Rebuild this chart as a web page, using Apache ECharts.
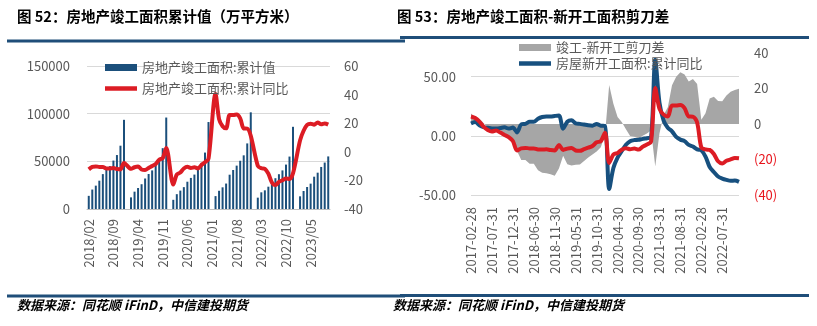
<!DOCTYPE html>
<html><head><meta charset="utf-8">
<script src="https://cdn.jsdelivr.net/npm/echarts@6/dist/echarts.min.js"></script>
<style>html,body{margin:0;padding:0;background:#fff;}#c{width:817px;height:326px;}</style>
</head><body><div id="c"></div>
<script>
// ---------- Left chart data ----------
const titleL = '图 52：房地产竣工面积累计值（万平方米）';
const titleR = '图 53：房地产竣工面积-新开工面积剪刀差';
const sourceText = '数据来源：同花顺 iFinD，中信建投期货';
const nameCum = '房地产竣工面积:累计值';
const nameCumYoy = '房地产竣工面积:累计同比';
const monthsL = [
 '2018/02','2018/03','2018/04','2018/05','2018/06','2018/07','2018/08','2018/09','2018/10','2018/11','2018/12',
 '2019/01','2019/02','2019/03','2019/04','2019/05','2019/06','2019/07','2019/08','2019/09','2019/10','2019/11','2019/12',
 '2020/01','2020/02','2020/03','2020/04','2020/05','2020/06','2020/07','2020/08','2020/09','2020/10','2020/11','2020/12',
 '2021/01','2021/02','2021/03','2021/04','2021/05','2021/06','2021/07','2021/08','2021/09','2021/10','2021/11','2021/12',
 '2022/01','2022/02','2022/03','2022/04','2022/05','2022/06','2022/07','2022/08','2022/09','2022/10','2022/11','2022/12',
 '2023/01','2023/02','2023/03','2023/04','2023/05','2023/06','2023/07','2023/08','2023/09','2023/10'
];
const completedCum = [
 13800,20400,24500,29700,36600,41800,45000,50800,56600,66400,93550,
 null,12200,18200,22000,26000,32000,36700,40500,46400,53300,63800,95942,
 null,9636,15557,19286,22936,28621,32600,36100,41000,48400,59200,91218,
 null,13530,19122,22736,26702,35979,40900,45500,50600,56300,68800,101412,
 null,11900,17500,19600,23400,28600,32300,36500,40500,46600,55000,86222,
 null,13300,18900,23100,26600,33900,38100,44100,48705,55151
];
const completedYoyL = [
 -12.3,-10.6,-10.2,-10.6,-10.6,-11.6,-11.6,-11.4,-12.0,-12.3,-7.8,
 null,-11.9,-10.8,-10.3,-12.4,-12.7,-11.3,-10.0,-8.6,-5.5,-4.5,2.6,
 null,-22.9,-15.8,-14.5,-11.7,-10.5,-11.3,-10.8,-11.6,-9.2,-7.3,-4.9,
 null,40.4,22.9,17.9,16.4,25.7,25.7,26.0,23.4,16.3,16.2,11.2,
 null,-9.8,-11.5,-11.9,-15.3,-21.5,-23.3,-21.1,-19.9,-18.7,-19.0,-15.0,
 null,8.0,14.7,18.8,19.6,19.0,20.5,19.2,19.8,19.0
];
const leftAxisL = {min:0, max:150000, interval:50000};
const rightAxisL = {min:-40, max:60, interval:20};

// ---------- Right chart data ----------
const nameGap = '竣工-新开工剪刀差';
const nameStartsYoy = '房屋新开工面积:累计同比';
const nameCompYoy = '房屋竣工面积:累计同比';
const monthsR = [
 '2017-02-28','2017-03-31','2017-04-30','2017-05-31','2017-06-30','2017-07-31','2017-08-31','2017-09-30','2017-10-31','2017-11-30','2017-12-31',
 '2018-02-28','2018-03-31','2018-04-30','2018-05-31','2018-06-30','2018-07-31','2018-08-31','2018-09-30','2018-10-31','2018-11-30','2018-12-31',
 '2019-02-28','2019-03-31','2019-04-30','2019-05-31','2019-06-30','2019-07-31','2019-08-31','2019-09-30','2019-10-31','2019-11-30','2019-12-31',
 '2020-02-29','2020-03-31','2020-04-30','2020-05-31','2020-06-30','2020-07-31','2020-08-31','2020-09-30','2020-10-31','2020-11-30','2020-12-31',
 '2021-02-28','2021-03-31','2021-04-30','2021-05-31','2021-06-30','2021-07-31','2021-08-31','2021-09-30','2021-10-31','2021-11-30','2021-12-31',
 '2022-02-28','2022-03-31','2022-04-30','2022-05-31','2022-06-30','2022-07-31','2022-08-31','2022-09-30','2022-10-31','2022-11-30'
];
const completedYoyR = [
 16.3,15.0,12.0,7.8,5.0,3.7,4.5,2.8,0.8,-1.1,-4.4,
 -12.3,-10.6,-10.2,-10.6,-10.6,-11.6,-11.6,-11.4,-12.0,-12.3,-7.8,
 -11.9,-10.8,-10.3,-12.4,-12.7,-11.3,-10.0,-8.6,-5.5,-4.5,2.6,
 -22.9,-15.8,-14.5,-11.7,-10.5,-11.3,-10.8,-11.6,-9.2,-7.3,-4.9,
 40.4,22.9,17.9,16.4,25.7,25.7,26.0,23.4,16.3,16.2,11.2,
 -9.8,-11.5,-11.9,-15.3,-21.5,-23.3,-21.1,-19.9,-18.7,-19.0
];
const startsYoyR = [
 10.4,11.6,9.0,7.3,6.8,6.2,6.2,6.6,7.2,6.1,7.0,
 2.9,9.7,10.1,11.8,11.8,14.4,15.9,16.4,16.3,16.8,17.2,
 6.0,11.9,13.1,10.5,10.1,9.5,8.9,8.6,10.0,8.6,8.5,
 -44.9,-27.2,-18.4,-12.8,-7.6,-4.5,-3.6,-3.4,-2.6,-2.0,-1.2,
 64.3,28.2,12.8,6.9,3.8,-0.9,-3.2,-4.5,-7.7,-9.1,-11.4,
 -12.2,-17.5,-26.3,-30.6,-34.4,-36.1,-37.2,-38.0,-37.8,-38.9
];
const gapR = [
 5.9,3.4,3.0,0.5,-1.8,-2.5,-1.7,-3.8,-6.4,-7.2,-11.4,
 -15.2,-20.3,-20.3,-22.4,-22.4,-26.0,-27.5,-27.8,-28.3,-29.1,-25.0,
 -17.9,-22.7,-23.4,-22.9,-22.8,-20.8,-18.9,-17.2,-15.5,-13.1,-5.9,
 22.0,11.4,3.9,1.1,-2.9,-6.8,-7.2,-8.2,-6.6,-5.3,-3.7,
 -23.9,-5.3,5.1,9.5,21.9,26.6,29.2,27.9,24.0,25.3,22.6,
 2.4,6.0,14.4,15.3,12.9,12.8,16.1,18.1,19.1,19.9
];
const leftAxisR = {min:-50, max:70, interval:50};
const rightAxisR = {min:-40, max:40, interval:20};

// ---------- Styles ----------
const FONT = '"Noto Sans CJK SC","Noto Sans",sans-serif';
const TXT = '#595959';
const NAVY = '#1f4e79';
const BAR = '#1b4f7b';
const RED = '#dc1c24';
const BLUE = '#17507f';
const GREY = '#a6a6a6';
const GRID = '#d9d9d9';
const LINE_ICON = 'path://M0,0L32,0L32,4.5L0,4.5Z';

const chart = echarts.init(document.getElementById('c'), null, {renderer:'canvas'});
const option = {
  animation: false,
  textStyle: {fontFamily: FONT},
  graphic: [
    {type:'text', left:17, top:9, style:{text:titleL, font:'bold 14.5px ' + FONT, fill:'#000'}},
    {type:'text', left:397, top:9, style:{text:titleR, font:'bold 14.5px ' + FONT, fill:'#000'}},
    {type:'rect', shape:{x:7, y:39.5, width:398, height:3}, style:{fill:NAVY}},
    {type:'rect', shape:{x:400, y:36, width:409, height:3}, style:{fill:NAVY}},
    {type:'rect', shape:{x:7, y:294.5, width:398, height:3}, style:{fill:NAVY}},
    {type:'rect', shape:{x:400, y:294, width:409, height:3}, style:{fill:NAVY}},
    {type:'text', left:17, top:299, style:{text:sourceText, font:'italic bold 13px ' + FONT, fill:'#000'}},
    {type:'text', left:393, top:299, style:{text:sourceText, font:'italic bold 13px ' + FONT, fill:'#000'}}
  ],
  legend: [
    {left:100, top:56, orient:'vertical', itemWidth:32, itemHeight:7, itemGap:8,
     textStyle:{color:TXT, fontSize:13, fontFamily:FONT},
     data:[{name:nameCum, icon:'rect'}, {name:nameCumYoy, icon:LINE_ICON}]},
    {left:514, top:36, orient:'vertical', itemWidth:32, itemHeight:7, itemGap:3,
     textStyle:{color:TXT, fontSize:13, fontFamily:FONT},
     data:[{name:nameGap, icon:'rect'}, {name:nameStartsYoy, icon:LINE_ICON}]}
  ],
  grid: [
    {left:87, top:66, width:243, height:143},
    {left:471, top:53, width:268, height:142}
  ],
  xAxis: [
    {gridIndex:0, type:'category', data:monthsL, boundaryGap:true,
     axisLine:{lineStyle:{color:'#bfbfbf'}},
     axisTick:{length:5, lineStyle:{color:'#bfbfbf'}},
     axisLabel:{interval:6, rotate:90, color:TXT, fontSize:13, margin:10}},
    {gridIndex:1, type:'category', data:monthsR, boundaryGap:false,
     axisLine:{show:false, onZero:false}, axisTick:{show:false},
     axisLabel:{interval:4, rotate:90, color:TXT, fontSize:13, margin:12}}
  ],
  yAxis: [
    {gridIndex:0, type:'value', position:'left', min:leftAxisL.min, max:leftAxisL.max, interval:leftAxisL.interval,
     axisLine:{show:false}, axisTick:{show:false},
     splitLine:{lineStyle:{color:GRID}},
     axisLabel:{color:TXT, fontSize:13, margin:17, formatter:v => String(v)}},
    {gridIndex:0, type:'value', position:'right', min:rightAxisL.min, max:rightAxisL.max, interval:rightAxisL.interval,
     axisLine:{show:false}, axisTick:{show:false}, splitLine:{show:false},
     axisLabel:{color:TXT, fontSize:13, margin:14, formatter:v => String(v)}},
    {gridIndex:1, type:'value', position:'left', min:leftAxisR.min, max:leftAxisR.max, interval:leftAxisR.interval,
     axisLine:{show:false}, axisTick:{show:false},
     splitLine:{showMaxLine:false, lineStyle:{color:GRID}},
     axisLabel:{showMaxLabel:false, color:TXT, fontSize:13, margin:15, formatter:v => v.toFixed(2)}},
    {gridIndex:1, type:'value', position:'right', min:rightAxisR.min, max:rightAxisR.max, interval:rightAxisR.interval,
     axisLine:{show:false}, axisTick:{show:false}, splitLine:{show:false},
     axisLabel:{color:TXT, fontSize:13, margin:15,
       formatter:v => v < 0 ? '{r|(' + (-v) + ')}' : String(v),
       rich:{r:{color:'#e8141c', fontSize:13, fontFamily:FONT}}}}
  ],
  series: [
    {name:nameCum, type:'bar', xAxisIndex:0, yAxisIndex:0, data:completedCum, barWidth:2,
     itemStyle:{color:BAR}},
    {name:nameCumYoy, type:'line', xAxisIndex:0, yAxisIndex:1, data:completedYoyL, connectNulls:true,
     symbol:'none', smooth:0.3, lineStyle:{width:4, color:RED}, itemStyle:{color:RED}, z:3},
    {name:nameGap, type:'line', xAxisIndex:1, yAxisIndex:3, data:gapR, symbol:'none',
     lineStyle:{width:0, color:GREY}, itemStyle:{color:GREY}, areaStyle:{color:GREY, opacity:1}, z:1},
    {name:nameStartsYoy, type:'line', xAxisIndex:1, yAxisIndex:2, data:startsYoyR, symbol:'none', smooth:0.3,
     lineStyle:{width:4, color:BLUE}, itemStyle:{color:BLUE}, z:2},
    {name:nameCompYoy, type:'line', xAxisIndex:1, yAxisIndex:2, data:completedYoyR, symbol:'none', smooth:0.3,
     lineStyle:{width:4, color:RED}, itemStyle:{color:RED}, z:3}
  ]
};
chart.setOption(option);
</script></body></html>
